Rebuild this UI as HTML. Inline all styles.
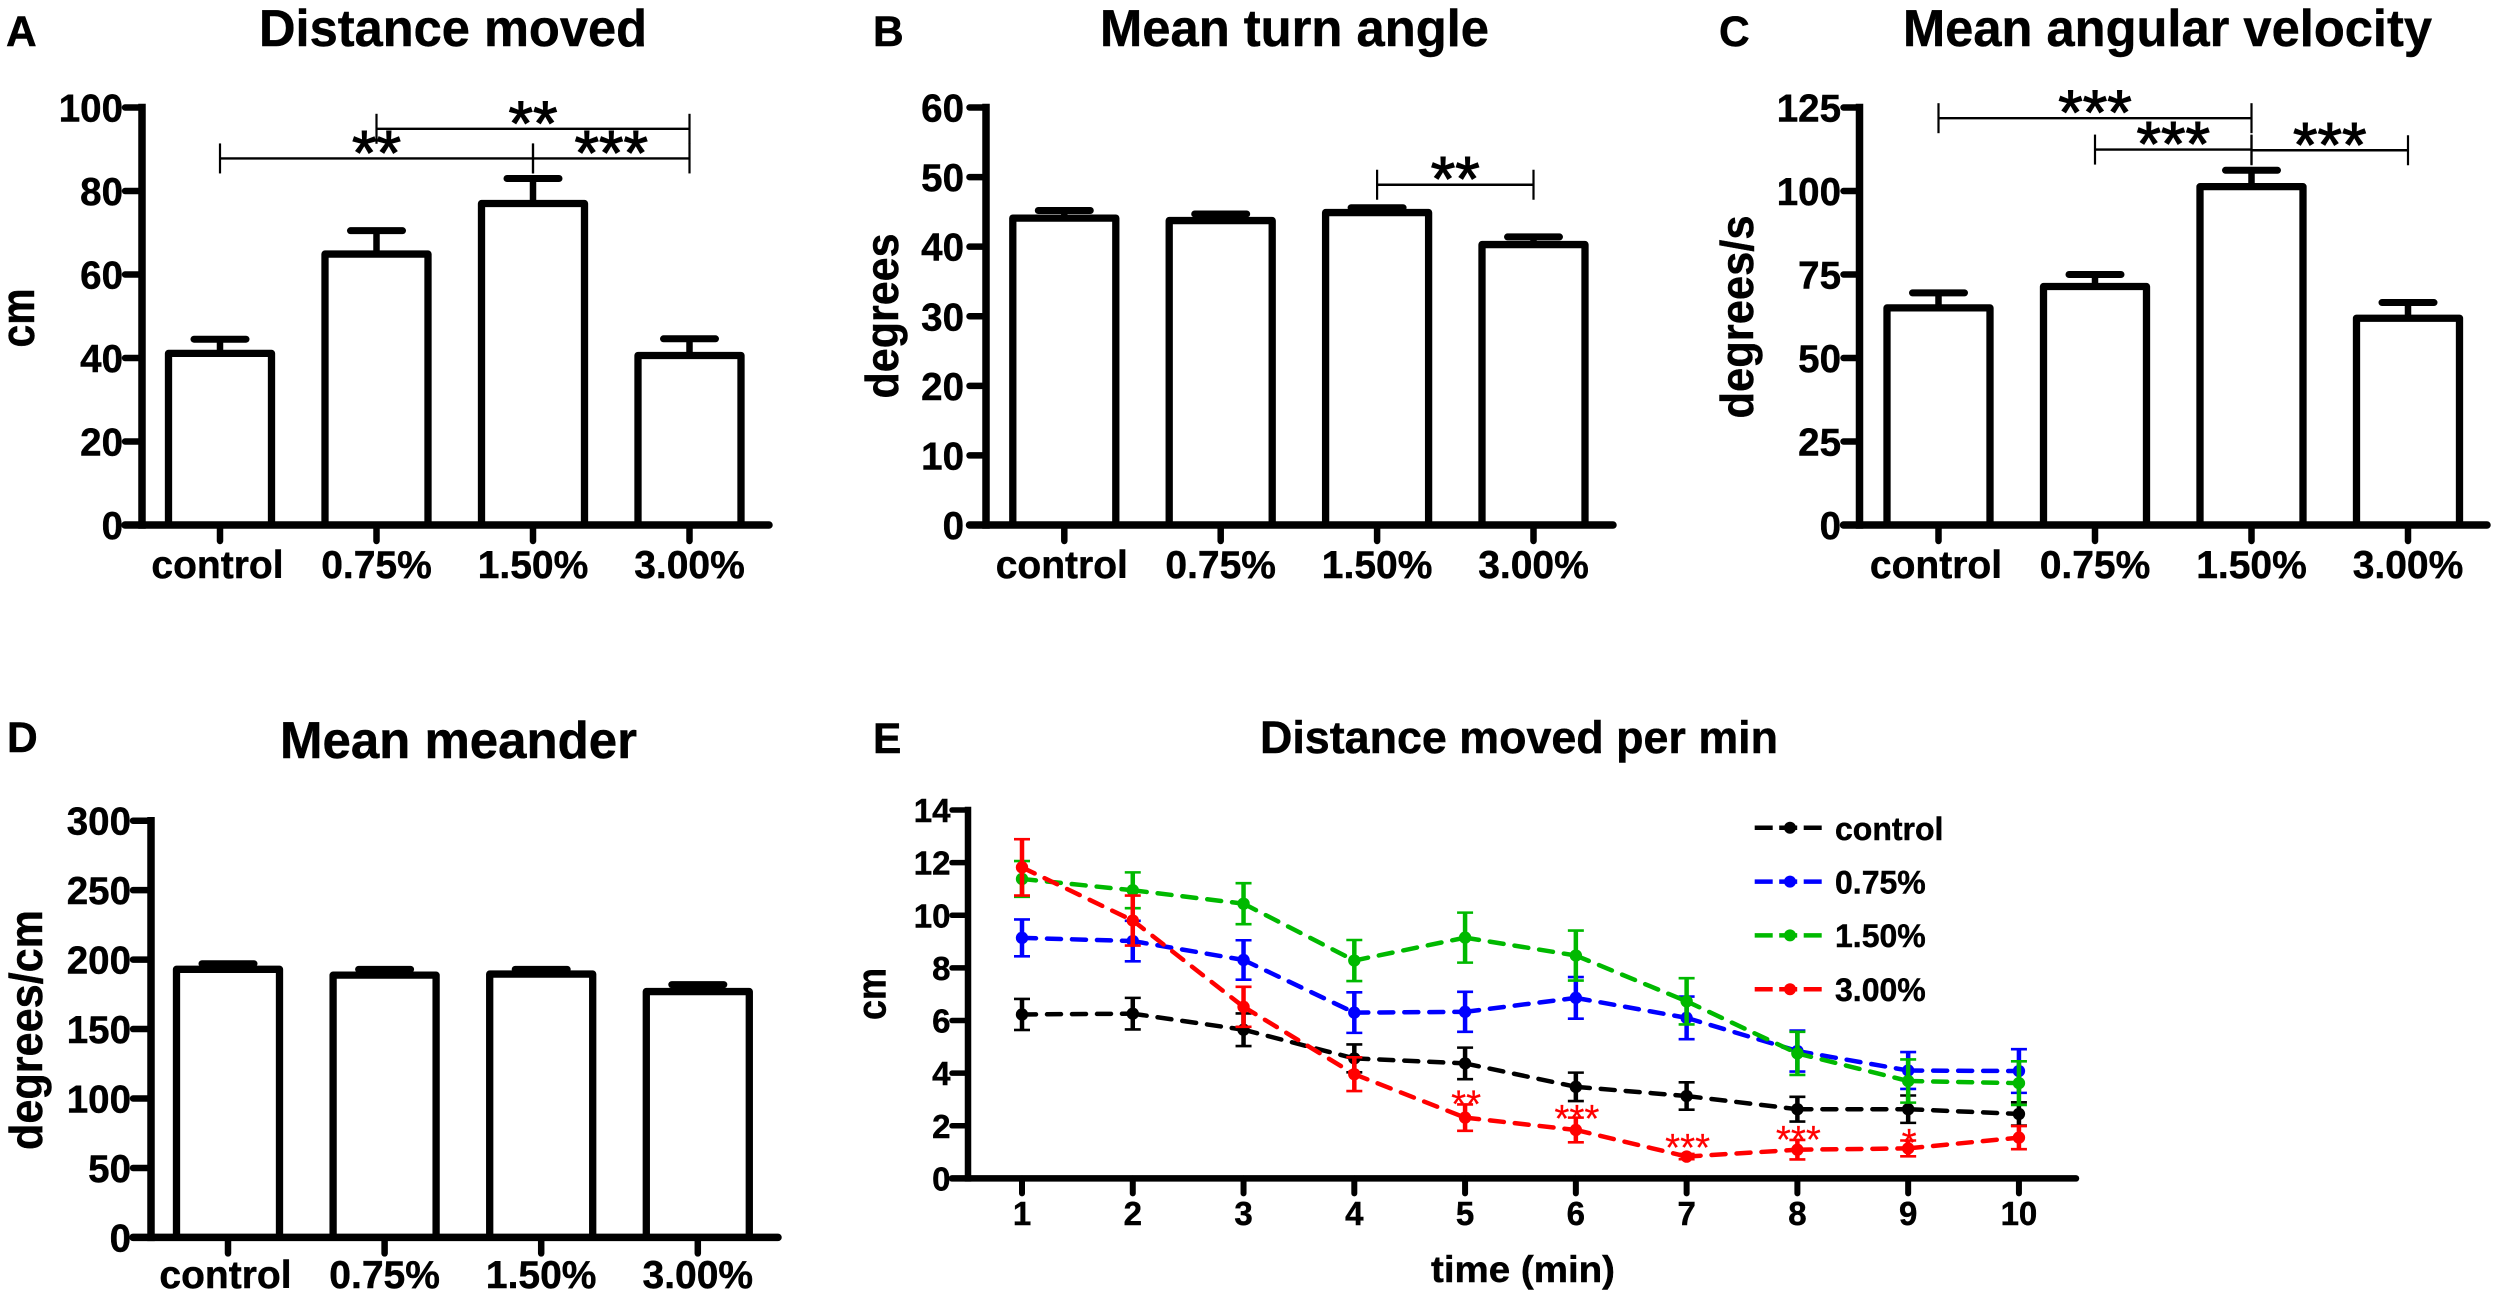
<!DOCTYPE html>
<html lang="en">
<head>
<meta charset="utf-8">
<title>Locomotor measures by treatment</title>
<style>
html,body{margin:0;padding:0;background:#fff;}
svg{display:block;}
text{font-family:"Liberation Sans",Arial,sans-serif;font-weight:bold;fill:#000;stroke:#000;stroke-width:0.45px;}
</style>
</head>
<body>
<svg id="figure" xmlns="http://www.w3.org/2000/svg" width="2500" height="1301" viewBox="0 0 2500 1301">
<rect x="0" y="0" width="2500" height="1301" fill="#fff"/>

<g id="panel-a">
<text x="6" y="46" font-size="42.5">A</text>
<text x="259" y="46" font-size="52" textLength="388" lengthAdjust="spacingAndGlyphs">Distance moved</text>
<text transform="translate(34,318) rotate(-90)" text-anchor="middle" font-size="47" textLength="59" lengthAdjust="spacingAndGlyphs">cm</text>
</g>

<g id="panel-b">
<text x="873" y="46" font-size="42.5">B</text>
<text x="1100" y="46" font-size="52" textLength="389" lengthAdjust="spacingAndGlyphs">Mean turn angle</text>
<text transform="translate(898,316) rotate(-90)" text-anchor="middle" font-size="46" textLength="165" lengthAdjust="spacingAndGlyphs">degrees</text>
</g>

<g id="panel-c">
<text x="1719" y="46" font-size="42.5">C</text>
<text x="1903" y="46" font-size="52" textLength="529" lengthAdjust="spacingAndGlyphs">Mean angular velocity</text>
<text transform="translate(1753,317) rotate(-90)" text-anchor="middle" font-size="46" textLength="203" lengthAdjust="spacingAndGlyphs">degrees/s</text>
</g>

<g id="panel-d">
<text x="7" y="752" font-size="42.5">D</text>
<text x="280" y="758" font-size="52" textLength="357" lengthAdjust="spacingAndGlyphs">Mean meander</text>
<text transform="translate(42,1030) rotate(-90)" text-anchor="middle" font-size="46" textLength="240" lengthAdjust="spacingAndGlyphs">degrees/cm</text>
</g>

<g id="panel-e">
<text x="873" y="753" font-size="42.5">E</text>
<text x="1260" y="753" font-size="45.5" textLength="518" lengthAdjust="spacingAndGlyphs">Distance moved per min</text>
<text transform="translate(885.6,994) rotate(-90)" text-anchor="middle" font-size="41" textLength="52" lengthAdjust="spacingAndGlyphs">cm</text>
<text x="1431" y="1282" font-size="37" textLength="184" lengthAdjust="spacingAndGlyphs">time (min)</text>
<g id="panel-e-legend">
<text x="1835" y="840" font-size="32">control</text>
<text x="1835" y="893.6" font-size="32">0.75%</text>
<text x="1835" y="947" font-size="32">1.50%</text>
<text x="1835" y="1001" font-size="32">3.00%</text>
</g>
</g>
</svg>

<script>
/* shared bar-chart categories */
const barCategories = ['control', '0.75%', '1.50%', '3.00%'];

/* panel A: distance moved */
const panelAMeans = [41.1, 64.9, 77.0, 40.6];
const panelAErrors = [3.4, 5.6, 6.0, 4.0];
const panelAYTicks = [0, 20, 40, 60, 80, 100];
const panelABrackets = [[0, 2, 87.8, '**'], [1, 3, 94.9, '**'], [2, 3, 87.8, '***']];

/* panel B: mean turn angle */
const panelBMeans = [44.1, 43.75, 44.9, 40.3];
const panelBErrors = [1.1, 0.95, 0.7, 1.1];
const panelBYTicks = [0, 10, 20, 30, 40, 50, 60];
const panelBBrackets = [[2, 3, 48.9, '**']];

/* panel C: mean angular velocity */
const panelCMeans = [65.0, 71.4, 101.3, 61.9];
const panelCErrors = [4.5, 3.6, 4.9, 4.7];
const panelCYTicks = [0, 25, 50, 75, 100, 125];
const panelCBrackets = [[0, 2, 121.8, '***'], [1, 2, 112.4, '***'], [2, 3, 112.2, '***']];

/* panel D: mean meander */
const panelDMeans = [193, 188.8, 189.6, 177];
const panelDErrors = [4, 4.2, 3.4, 5];
const panelDYTicks = [0, 50, 100, 150, 200, 250, 300];
const panelDBrackets = [];

/* panel E: distance moved per minute */
const minutes = [1, 2, 3, 4, 5, 6, 7, 8, 9, 10];
const lineYTicks = [0, 2, 4, 6, 8, 10, 12, 14];
const controlMeans = [6.23, 6.26, 5.65, 4.56, 4.37, 3.48, 3.13, 2.63, 2.63, 2.45];
const controlErrors = [0.59, 0.6, 0.62, 0.53, 0.6, 0.54, 0.52, 0.47, 0.52, 0.44];
const lowDoseMeans = [9.14, 9.02, 8.3, 6.3, 6.33, 6.86, 6.1, 4.84, 4.1, 4.08];
const lowDoseErrors = [0.7, 0.77, 0.75, 0.77, 0.76, 0.79, 0.81, 0.78, 0.7, 0.83];
const midDoseMeans = [11.38, 10.95, 10.44, 8.28, 9.15, 8.47, 6.73, 4.75, 3.7, 3.62];
const midDoseErrors = [0.68, 0.68, 0.78, 0.78, 0.95, 0.95, 0.88, 0.82, 0.82, 0.83];
const highDoseMeans = [11.82, 9.8, 6.52, 3.96, 2.31, 1.84, 0.83, 1.09, 1.14, 1.55];
const highDoseErrors = [1.07, 0.95, 0.76, 0.64, 0.5, 0.47, 0.1, 0.37, 0.3, 0.44];
const highDoseStarMinutes = [5, 6, 7, 8, 9];
const highDoseStarLevels = [3.03, 2.48, 1.39, 1.68, 1.58];
const highDoseStarMarks = ['**', '***', '***', '***', '*'];
const legendLabels = ['control', '0.75%', '1.50%', '3.00%'];

const SVG_NS = 'http://www.w3.org/2000/svg';

function make(tag, attrs, parent, name) {
  const el = document.createElementNS(SVG_NS, tag);
  for (const key in attrs) el.setAttribute(key, attrs[key]);
  
  
  parent.appendChild(el);
  return el;
}

function seg(parent, name, x1, y1, x2, y2, stroke, width, cap, dash) {
  const attrs = {x1: x1, y1: y1, x2: x2, y2: y2, stroke: stroke, 'stroke-width': width, 'stroke-linecap': cap || 'butt'};
  if (dash) attrs['stroke-dasharray'] = dash;
  return make('line', attrs, parent, name);
}

function label(parent, name, x, y, str, size, anchor) {
  const el = make('text', {x: x, y: y, 'font-size': size, 'text-anchor': anchor || 'middle'}, parent, name);
  el.textContent = str;
  return el;
}

function starLabel(parent, name, x, y, str, size, color) {
  const el = make('text', {x: x, y: y, 'font-size': size, 'text-anchor': 'middle'}, parent, name);
  el.setAttribute('style', 'font-weight:normal;fill:' + color + ';stroke:' + color + ';stroke-width:' + (color === '#000' ? 1.1 : 0.2) + 'px');
  el.textContent = str;
  return el;
}

function drawBarPanel(id, geo, means, errors, yTicks, brackets) {
  const root = document.getElementById(id);
  const yMax = yTicks[yTicks.length - 1];
  const yScale = v => geo.bottom - (v / yMax) * (geo.bottom - geo.top);
  const xScale = i => geo.firstX + i * geo.stepX;

  means.forEach((value, i) => {
    const cx = xScale(i), half = 51.5, top = yScale(value);
    make('path', {
      d: 'M' + (cx - half) + ' ' + geo.bottom + 'V' + top + 'H' + (cx + half) + 'V' + geo.bottom,
      fill: '#fff', stroke: '#000', 'stroke-width': 7.3, 'stroke-linejoin': 'round'
    }, root, 'bar-' + barCategories[i]);
    seg(root, 'error-stem-' + barCategories[i], cx, top, cx, yScale(value + errors[i]), '#000', 6.5);
    seg(root, 'error-cap-' + barCategories[i], cx - 26, yScale(value + errors[i]), cx + 26, yScale(value + errors[i]), '#000', 7, 'round');
  });

  seg(root, 'y-axis', geo.axisX, geo.top, geo.axisX, geo.bottom, '#000', 7.5, 'square');
  seg(root, 'x-axis', geo.tickLeft, geo.bottom, geo.axisRight, geo.bottom, '#000', 7.5, 'round');

  yTicks.forEach(t => {
    seg(root, 'y-tick-' + t, geo.tickLeft, yScale(t), geo.axisX, yScale(t), '#000', 6.5, 'round');
    label(root, 'y-tick-label-' + t, geo.labelX, yScale(t) + 14, String(t), 38.5, 'end');
  });

  barCategories.forEach((cat, i) => {
    seg(root, 'x-tick-' + cat, xScale(i), geo.bottom, xScale(i), geo.bottom + 16, '#000', 6.5, 'round');
    label(root, 'x-tick-label-' + cat, xScale(i) - (i === 0 ? 2.5 : 0), geo.labelY, cat, 39);
  });

  brackets.forEach((b, n) => {
    const x1 = xScale(b[0]), x2 = xScale(b[1]), y = yScale(b[2]);
    seg(root, 'significance-line-' + n, x1, y, x2, y, '#000', 2.4);
    seg(root, 'significance-left-tick-' + n, x1, y - 15, x1, y + 15, '#000', 2.2);
    seg(root, 'significance-right-tick-' + n, x2, y - 15, x2, y + 15, '#000', 2.2);
    starLabel(root, 'significance-stars-' + n, (x1 + x2) / 2, y + 16, b[3], 63, '#000');
  });
}

drawBarPanel('panel-a', {top: 107.5, bottom: 525, axisX: 142, tickLeft: 125, axisRight: 769, firstX: 220, stepX: 156.5, labelX: 123, labelY: 578}, panelAMeans, panelAErrors, panelAYTicks, panelABrackets);
drawBarPanel('panel-b', {top: 107.5, bottom: 525, axisX: 986, tickLeft: 969.5, axisRight: 1613, firstX: 1064.3, stepX: 156.4, labelX: 964, labelY: 578}, panelBMeans, panelBErrors, panelBYTicks, panelBBrackets);
drawBarPanel('panel-c', {top: 107.5, bottom: 525, axisX: 1859.5, tickLeft: 1843.5, axisRight: 2487, firstX: 1938.5, stepX: 156.5, labelX: 1841, labelY: 578}, panelCMeans, panelCErrors, panelCYTicks, panelCBrackets);
drawBarPanel('panel-d', {top: 820.7, bottom: 1237.4, axisX: 151, tickLeft: 133, axisRight: 778, firstX: 228, stepX: 156.6, labelX: 131, labelY: 1288}, panelDMeans, panelDErrors, panelDYTicks, panelDBrackets);

/* line chart */
(function () {
  const root = document.getElementById('panel-e');
  const top = 810, bottom = 1178.4, axisX = 968, firstX = 1022, stepX = 110.77;
  const yMax = lineYTicks[lineYTicks.length - 1];
  const yScale = v => bottom - (v / yMax) * (bottom - top);
  const xScale = t => firstX + (t - 1) * stepX;

  seg(root, 'y-axis', axisX, top, axisX, bottom, '#000', 6.5, 'square');
  seg(root, 'x-axis', 952, bottom, 2076, bottom, '#000', 6.5, 'round');
  lineYTicks.forEach(t => {
    seg(root, 'y-tick-' + t, 952, yScale(t), axisX, yScale(t), '#000', 5.5, 'round');
    label(root, 'y-tick-label-' + t, 950.5, yScale(t) + 12, String(t), 33, 'end');
  });
  minutes.forEach(t => {
    seg(root, 'x-tick-' + t, xScale(t), bottom, xScale(t), bottom + 15, '#000', 6, 'round');
    label(root, 'x-tick-label-' + t, xScale(t), 1225, String(t), 33);
  });

  const seriesList = [
    ['control', '#000', controlMeans, controlErrors],
    ['0.75', '#0000ff', lowDoseMeans, lowDoseErrors],
    ['1.50', '#00b900', midDoseMeans, midDoseErrors],
    ['3.00', '#ff0000', highDoseMeans, highDoseErrors]
  ];
  seriesList.forEach(s => {
    const name = s[0], color = s[1], means = s[2], errors = s[3];
    const g = make('g', {}, root, 'series-' + name);
    means.forEach((v, i) => {
      if (i < means.length - 1) {
        seg(g, 'line-segment-' + name + '-' + minutes[i], xScale(minutes[i]), yScale(v), xScale(minutes[i + 1]), yScale(means[i + 1]), color, 4.5, 'round', '14 11');
      }
    });
    means.forEach((v, i) => {
      const cx = xScale(minutes[i]), hi = yScale(v + errors[i]), lo = yScale(v - errors[i]);
      seg(g, 'error-stem-' + name + '-' + minutes[i], cx, hi, cx, lo, color, 4.5);
      seg(g, 'error-cap-upper-' + name + '-' + minutes[i], cx - 8, hi, cx + 8, hi, color, 2.6);
      seg(g, 'error-cap-lower-' + name + '-' + minutes[i], cx - 8, lo, cx + 8, lo, color, 2.6);
      make('circle', {cx: cx, cy: yScale(v), r: 6.2, fill: color}, g, 'point-' + name + '-' + minutes[i]);
    });
  });

  highDoseStarMinutes.forEach((minute, i) => {
    starLabel(root, 'significance-stars-minute-' + minute, xScale(minute) + 1, yScale(highDoseStarLevels[i]) + 19, highDoseStarMarks[i], 38.5, '#ff0000');
  });

  const legend = document.getElementById('panel-e-legend');
  legendLabels.forEach((lab, i) => {
    const y = 827.8 + i * 53.8;
    seg(legend, 'legend-line-' + lab, 1754.7, y, 1825, y, seriesList[i][1], 4.5, 'butt', '18 6.5');
    make('circle', {cx: 1790, cy: y, r: 6, fill: seriesList[i][1]}, legend, 'legend-marker-' + lab);
  });
})();
</script>
</body>
</html>
